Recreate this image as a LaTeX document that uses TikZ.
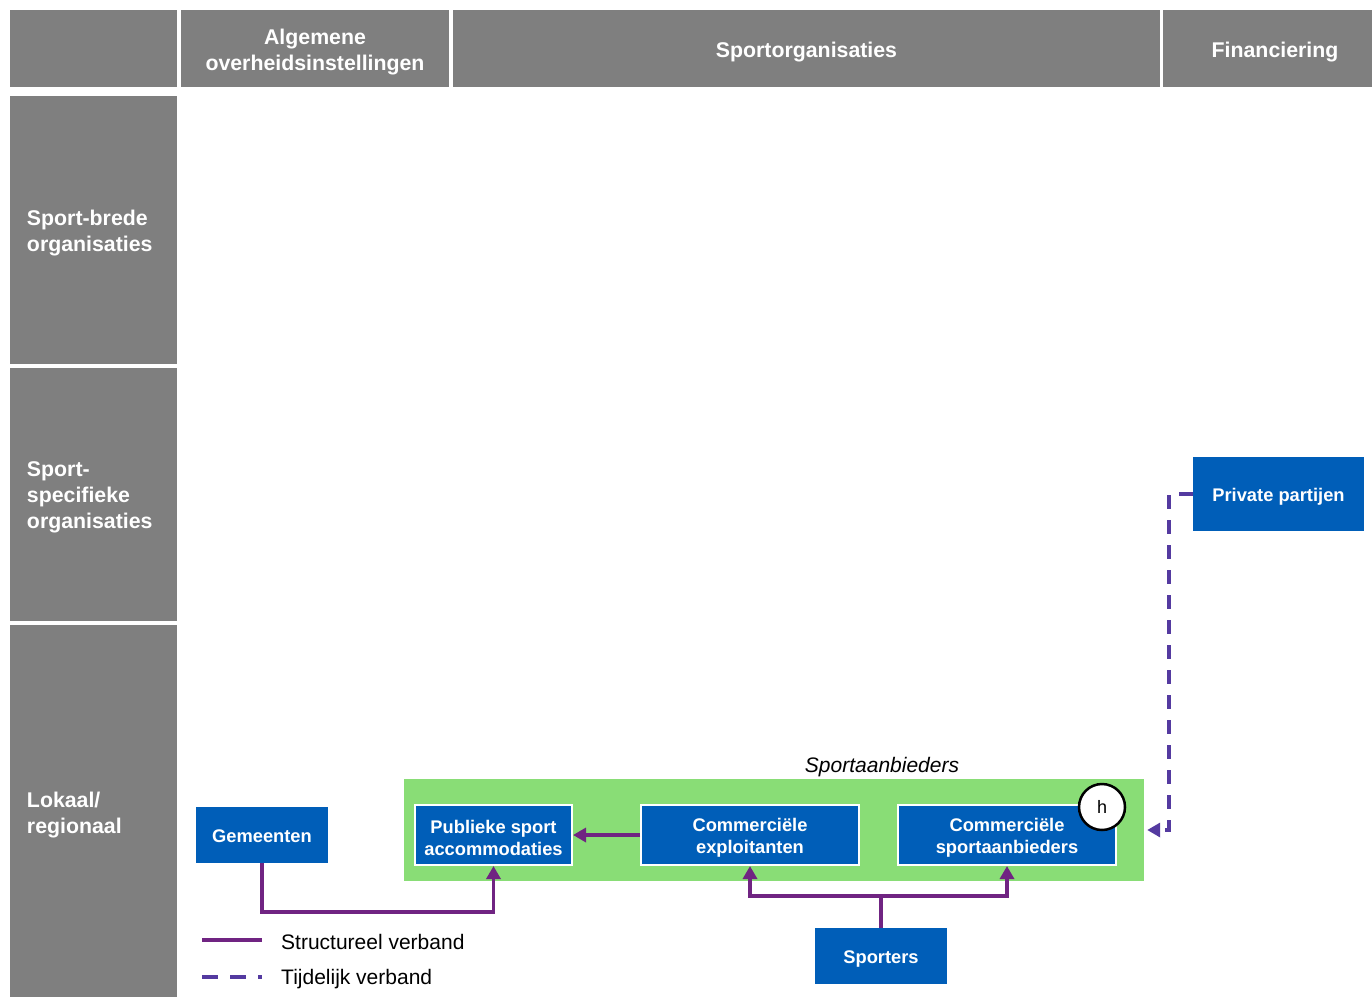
\documentclass[tikz,border=0pt]{standalone}
\usepackage{fontspec}
\setmainfont{Liberation Sans}
\usetikzlibrary{arrows.meta,calc}
\definecolor{hdrgray}{RGB}{127,127,127}
\definecolor{boxblue}{RGB}{0,94,184}
\definecolor{grpgreen}{RGB}{137,221,118}
\definecolor{structpurple}{RGB}{112,36,130}
\definecolor{tempviolet}{RGB}{84,58,160}
\begin{document}
\begin{tikzpicture}[x=1pt,y=-1pt,
  cell/.style={fill=hdrgray,draw=none,inner sep=0pt},
  celltext/.style={text=white,font=\bfseries\fontsize{21.3}{26}\selectfont,inner sep=0pt,align=center,yshift=-3.5pt},
  rowtext/.style={celltext,align=left,text width=133pt,yshift=0.5pt},
  bluebox/.style={fill=boxblue,inner sep=0pt},
  boxtext/.style={text=white,font=\bfseries\fontsize{18.3}{22}\selectfont,align=center,inner sep=0pt,yshift=-2.5pt},
  framedbox/.style={bluebox,draw=white,line width=2pt},
  conn/.style={draw=structpurple,line width=3.5pt,-{Triangle[length=13pt,width=14pt]}},
  plainconn/.style={draw=structpurple,line width=3.5pt},
  dconn/.style={draw=tempviolet,line width=3.5pt,dash pattern=on 14pt off 11pt,-{Triangle[length=13pt,width=14pt]}},
  legtext/.style={anchor=west,font=\fontsize{21}{25}\selectfont,inner sep=0pt}
]
\useasboundingbox (0,0) rectangle (1372,996);
\fill[white] (0,0) rectangle (1372,996);

% header row
\node[cell,minimum width=167pt,minimum height=77pt] (c0) at (93.5,48.5) {};
\node[cell,minimum width=268pt,minimum height=77pt,label={[celltext]center:{Algemene\\overheidsinstellingen}}] (calg) at (315,48.5) {};
\node[cell,minimum width=707pt,minimum height=77pt,label={[celltext]center:{Sportorganisaties}}] (csport) at (806.5,48.5) {};
\node[cell,minimum width=224pt,minimum height=77pt,label={[celltext]center:{Financiering}}] (cfin) at (1275,48.5) {};

% row labels
\node[cell,minimum width=167pt,minimum height=268pt,label={[rowtext]center:{Sport-brede\\organisaties}}] (r1) at (93.5,230) {};
\node[cell,minimum width=167pt,minimum height=253pt,label={[rowtext]center:{Sport-\\specifieke\\organisaties}}] (r2) at (93.5,494.5) {};
\node[cell,minimum width=167pt,minimum height=375pt,label={[rowtext]center:{Lokaal/\\regionaal}}] (r3) at (93.5,812.5) {};

% group
\node[fill=grpgreen,minimum width=740pt,minimum height=102pt,inner sep=0pt] (grp) at (774,830) {};
\node[font=\itshape\fontsize{21}{25}\selectfont,inner sep=0pt] (grplabel) at (882,767) {Sportaanbieders};

% boxes
\node[bluebox,minimum width=132pt,minimum height=56pt,label={[boxtext,yshift=1.5pt]center:{Gemeenten}}] (gem) at (262,835) {};
\node[framedbox,minimum width=157pt,minimum height=60pt,label={[boxtext]center:{Publieke sport\\accommodaties}}] (pub) at (493.5,835) {};
\node[framedbox,minimum width=218pt,minimum height=60pt,label={[boxtext]center:{Commerciële\\exploitanten}}] (exp) at (750,835) {};
\node[framedbox,minimum width=218pt,minimum height=60pt,label={[boxtext]center:{Commerciële\\sportaanbieders}}] (spa) at (1007,835) {};
\node[circle,fill=white,draw=black,line width=2.5pt,minimum size=46pt,inner sep=0pt,font=\fontsize{18}{22}\selectfont] (h) at (1102,807) {h};
\node[bluebox,minimum width=171pt,minimum height=74pt,label={[boxtext]center:{Private partijen}}] (pp) at (1278.5,494) {};
\node[bluebox,minimum width=132pt,minimum height=56pt,label={[boxtext]center:{Sporters}}] (sp) at (881,956) {};

% connectors
\draw[conn] (gem.south) -- ++(0,49) -| (pub.south);
\draw[conn] (exp.west) -- (pub.east);
\draw[conn] (sp.north) -- ++(0,-32) -| (exp.south);
\draw[conn] (sp.north) -- ++(0,-32) -| (spa.south);
\coordinate (tgt) at ($(grp.east)+(3,0)$);
\draw[dconn] (pp.west) -- ++(-24,0) |- (tgt);

% legend
\coordinate (l1a) at (202,940);
\coordinate (l1b) at (262,940);
\coordinate (l2a) at (202,977);
\coordinate (l2b) at (262,977);
\draw[plainconn] (l1a) -- (l1b);
\draw[draw=tempviolet,line width=3.5pt,dash pattern=on 16pt off 12pt] (l2a) -- (l2b);
\node[legtext] (lt1) at (281,942) {Structureel verband};
\node[legtext] (lt2) at (281,979) {Tijdelijk verband};
\end{tikzpicture}
\end{document}
